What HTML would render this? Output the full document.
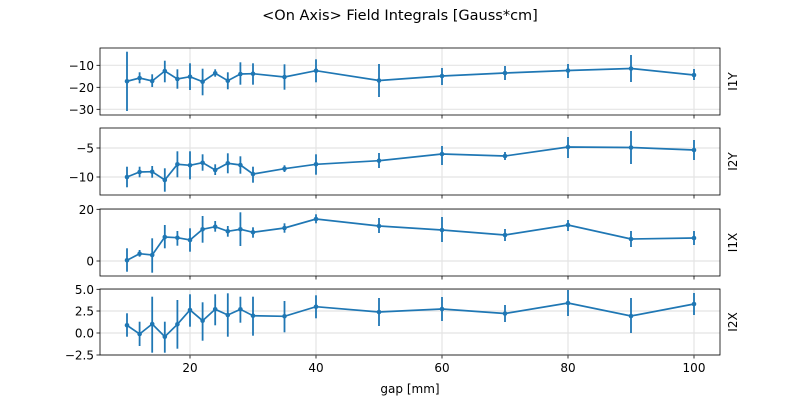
<!DOCTYPE html>
<html><head><meta charset="utf-8"><style>body{margin:0;background:#fff}svg{display:block}text{font-family:"DejaVu Sans","Liberation Sans",sans-serif;fill:#000}</style></head>
<body>
<svg id="s" width="800" height="400" xmlns="http://www.w3.org/2000/svg">
<text x="400" y="20" font-size="14.5" text-anchor="middle">&lt;On Axis&gt; Field Integrals [Gauss*cm]</text>
<text x="410" y="393" font-size="12" text-anchor="middle">gap [mm]</text>
</svg>
<script>
const s=document.getElementById('s');const NS='http://www.w3.org/2000/svg';
function el(t,a,txt){const e=document.createElementNS(NS,t);for(const k in a)e.setAttribute(k,a[k]);if(txt)e.textContent=txt;s.appendChild(e);return e;}
const xs=[10,12,14,16,18,20,22,24,26,28,30,35,40,50,60,70,80,90,100].map(g=>64+6.3*g);
const panels=[
{t:48,b:115,lab:'I1Y',ticks:[[65.3,'−10'],[87.3,'−20'],[109.3,'−30']],
d:[[81.3,51.7,111],[78,72.3,83.3],[81,74.3,87],[71,60.7,82.3],[79,69.3,88.7],[76.7,63.3,90],[81.7,68.7,95.3],[73.3,69.3,76.7],[80.7,72.3,89.3],[74,62.3,84.7],[73.7,63.3,84.7],[77,64.3,89.7],[70.7,59.3,82.3],[80.5,64,97],[76,68,85],[73,66,80],[70.5,64,78],[68.5,55,82],[75,69,80]]},
{t:128,b:195,lab:'I2Y',ticks:[[148,'−5'],[177,'−10']],
d:[[177,166.7,187.3],[172,166.7,177.3],[171.7,166,177.7],[180,168.3,191.7],[164.3,151.3,177.3],[165.3,151.3,179.3],[162.7,154.3,170.7],[170,164.3,175],[163.3,153.3,173.3],[165,156.3,173.7],[174,166.7,182.7],[168.7,165.3,172],[164.3,154.3,174.7],[160.7,153,168],[154,146,165],[156,152,160],[147,137,158],[147.5,131,164],[150,140,160]]},
{t:209,b:276,lab:'I1X',ticks:[[209.3,'20'],[261,'0']],
d:[[260.3,248.3,271.7],[253.7,250,256.7],[255,238.3,272.7],[237,225,248.3],[237.7,231,245.7],[240,228.3,251.7],[229.3,216,242.7],[226.7,221,231.7],[231.3,226,236.7],[229.3,212.3,246],[232.3,227.3,237.7],[228,223.3,232.7],[219,214.3,223.3],[226,218,233],[230,217,242],[235,229,241],[225,220,231],[239,231,247],[238,231,245]]},
{t:289,b:355,lab:'I2X',ticks:[[289.3,'5.0'],[311,'2.5'],[333,'0.0'],[355,'−2.5']],
d:[[325.3,313.3,336.7],[334,321.7,346],[324,296.7,352.7],[336.7,321.7,352.7],[324.3,300,348.7],[310,294.3,326.7],[320.7,302.3,340.7],[309.3,294.3,325.3],[315,293.3,336.7],[309.3,296.7,322.7],[315.7,296.7,335.7],[316.3,301,332.3],[306.7,295.3,318.3],[312,298,326],[309,297,321],[313.5,305,322],[303,290,316],[316,298,333],[304,293,315]]}];
const L=100,R=720,C='#1f77b4';
panels.forEach((p,i)=>{
 [190,316,442,568,694].forEach(x=>{el('line',{x1:x,x2:x,y1:p.t,y2:p.b,stroke:'#e4e4e4','stroke-width':1.2});
   el('line',{x1:x,x2:x,y1:p.b,y2:p.b+3.5,stroke:'#000','stroke-width':0.8});});
 p.ticks.forEach(([y,l])=>{el('line',{x1:L,x2:R,y1:y,y2:y,stroke:'#e4e4e4','stroke-width':1.2});
   el('line',{x1:L-3.5,x2:L,y1:y,y2:y,stroke:'#000','stroke-width':0.8});
   el('text',{x:L-6,y:y+4.5,'font-size':12,'text-anchor':'end'},l);});
 p.d.forEach((d,j)=>el('line',{x1:xs[j],x2:xs[j],y1:d[1],y2:d[2],stroke:C,'stroke-width':1.8}));
 el('polyline',{points:p.d.map((d,j)=>xs[j]+','+d[0]).join(' '),fill:'none',stroke:C,'stroke-width':1.7});
 p.d.forEach((d,j)=>el('circle',{cx:xs[j],cy:d[0],r:2.3,fill:C}));
 el('rect',{x:L,y:p.t,width:R-L,height:p.b-p.t,fill:'none',stroke:'#000','stroke-width':0.8});
 const cy=(p.t+p.b)/2;el('text',{x:0,y:0,'font-size':12,'text-anchor':'middle',transform:`translate(737,${cy}) rotate(-90)`},p.lab);
 if(i==3)[[20,190],[40,316],[60,442],[80,568],[100,694]].forEach(([v,x])=>el('text',{x:x,y:p.b+17,'font-size':12,'text-anchor':'middle'},v));
});
</script>
</body></html>
